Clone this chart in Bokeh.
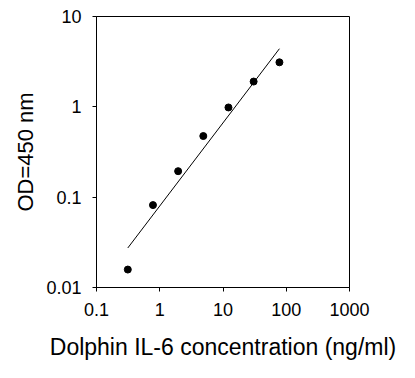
from bokeh.plotting import figure
from bokeh.models import FixedTicker
from bokeh.embed import file_html
from bokeh.resources import INLINE

# Data
conc = [0.3125, 0.78125, 1.953, 4.883, 12.2, 30.5, 78.0]
od = [0.0158, 0.0817, 0.194, 0.475, 0.984, 1.905, 3.11]

# Fitted standard curve endpoints
fit_x = [0.3125, 78.0]
fit_y = [0.0274, 4.40]

x_ticks = [0.1, 1, 10, 100, 1000]
x_tick_labels = ["0.1", "1", "10", "100", "1000"]
y_ticks = [0.01, 0.1, 1, 10]
y_tick_labels = ["0.01", "0.1", "1", "10"]

x_title = "Dolphin IL-6 concentration (ng/ml)"
y_title = "OD=450 nm"

FONT = "Liberation Sans"

p = figure(width=399, height=362, x_axis_type="log", y_axis_type="log",
           x_range=(0.1, 1000), y_range=(0.01, 10),
           output_backend="svg", toolbar_location=None,
           min_border_left=96, min_border_right=50,
           min_border_top=16, min_border_bottom=74)

p.line(fit_x, fit_y, line_color="black", line_width=1)
p.scatter(conc, od, size=7, fill_color="black", line_color="black")

p.xgrid.visible = False
p.ygrid.visible = False
p.outline_line_color = "black"
p.outline_line_width = 1
p.outline_line_alpha = 1.0
p.background_fill_color = "white"
p.border_fill_color = "white"

p.xaxis.ticker = FixedTicker(ticks=x_ticks, minor_ticks=[])
p.yaxis.ticker = FixedTicker(ticks=y_ticks, minor_ticks=[])
p.xaxis.major_label_overrides = {t: l for t, l in zip(x_ticks, x_tick_labels)}
p.yaxis.major_label_overrides = {t: l for t, l in zip(y_ticks, y_tick_labels)}

for ax in (p.xaxis[0], p.yaxis[0]):
    ax.axis_line_color = "black"
    ax.major_tick_line_color = "black"
    ax.major_tick_in = 0
    ax.major_tick_out = 4
    ax.minor_tick_line_color = None
    ax.major_label_text_font = FONT
    ax.major_label_text_font_size = "18px"
    ax.major_label_text_color = "black"
    ax.axis_label_text_font = FONT
    ax.axis_label_text_font_style = "normal"
    ax.axis_label_text_color = "black"

p.xaxis.axis_label = x_title
p.xaxis.axis_label_text_font_size = "23px"
p.xaxis.major_label_standoff = 11
p.xaxis.axis_label_standoff = 15

p.yaxis.axis_label = y_title
p.yaxis.axis_label_text_font_size = "22px"
p.yaxis.major_label_standoff = 11
p.yaxis.axis_label_standoff = 5

open("out.html", "w").write(file_html(p, INLINE))
